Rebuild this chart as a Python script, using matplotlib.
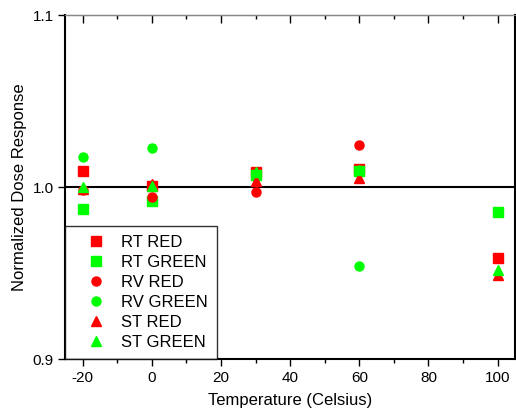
import matplotlib
matplotlib.use("Agg")
import matplotlib.pyplot as plt
from matplotlib.ticker import MultipleLocator

nan = float('nan')
plt.rcParams['font.family'] = ['Liberation Sans', 'DejaVu Sans']
plt.rcParams['axes.unicode_minus'] = False

temps = [-20, 0, 30, 60, 100]
rt_red = [1.0091, 1.0005, 1.0085, 1.0105, 0.959]
rt_green = [0.987, 0.992, 1.007, 1.0095, 0.9853]
rv_red = [0.998, 0.9944, 0.9969, 1.0247, nan]
rv_green = [1.0172, 1.0225, nan, 0.954, nan]
st_red = [0.999, 1.002, 1.0035, 1.005, 0.949]
st_green = [1.0, 1.0006, 1.0088, 1.0097, 0.952]

series = [
    ("RT RED", rt_red, 's', '#ff0000'),
    ("RT GREEN", rt_green, 's', '#00ff00'),
    ("RV RED", rv_red, 'o', '#ff0000'),
    ("RV GREEN", rv_green, 'o', '#00ff00'),
    ("ST RED", st_red, '^', '#ff0000'),
    ("ST GREEN", st_green, '^', '#00ff00'),
]

fig = plt.figure(figsize=(5.16, 4.11), dpi=100)
ax = fig.add_axes([0.1266, 0.1265, 0.8714, 0.837])

ax.axhline(1.0, color='black', lw=1.5, zorder=1)
for name, vals, mk, col in series:
    ax.plot(temps, vals, linestyle='none', marker=mk, color=col, ms=6.5,
            mec=col, label=name, zorder=3)

ax.set_xlim(-25, 105)
ax.set_ylim(0.9, 1.1)
ax.xaxis.set_major_locator(MultipleLocator(20))
ax.xaxis.set_minor_locator(MultipleLocator(10))
ax.set_yticks([0.9, 1.0, 1.1])
ax.set_yticklabels(['0.9', '1.0', '1.1'])

ax.tick_params(axis='x', which='major', direction='out', length=5, width=1, labelsize=11, top=False)
ax.tick_params(axis='x', which='minor', direction='out', length=3, width=1, top=False)
ax.tick_params(axis='y', which='major', direction='out', length=5, width=1, labelsize=11)

# mirrored top ticks pointing in
top = ax.secondary_xaxis('top')
top.xaxis.set_major_locator(MultipleLocator(20))
top.xaxis.set_minor_locator(MultipleLocator(10))
top.tick_params(which='major', direction='in', length=6, width=1, labeltop=False)
top.tick_params(which='minor', direction='in', length=3, width=1)
top.spines['top'].set_color('#888888')
top.spines['top'].set_linewidth(1)

for s in ['left', 'bottom', 'right']:
    ax.spines[s].set_linewidth(1.5)
ax.spines['top'].set_color('#888888')

ax.set_xlabel('Temperature (Celsius)', fontsize=12, labelpad=6)
ax.set_ylabel('Normalized Dose Response', fontsize=12, labelpad=4)

leg = ax.legend(loc='lower left', bbox_to_anchor=(0.0, 0.0), fontsize=12,
                frameon=True, fancybox=False, edgecolor='black',
                handletextpad=0.2, labelspacing=0.3, borderpad=0.55,
                handlelength=2.6, borderaxespad=0.0)
leg.get_frame().set_linewidth(1.0)

fig.savefig('out.png', dpi=100)
